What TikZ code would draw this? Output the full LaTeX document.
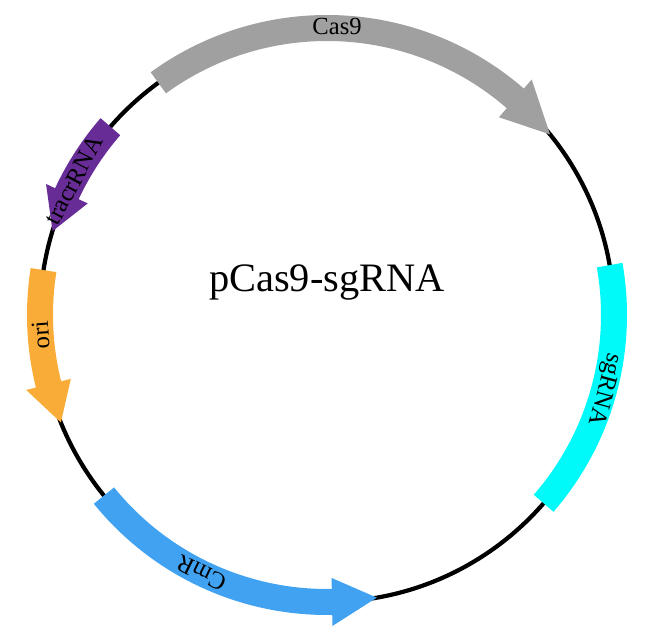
\documentclass[tikz,border=0pt]{standalone}
\usepackage{fontspec}
\setmainfont{Liberation Serif}
\definecolor{casgray}{RGB}{160,160,160}
\definecolor{tracrpurple}{RGB}{104,44,150}
\definecolor{oriorange}{RGB}{250,172,56}
\definecolor{cmrblue}{RGB}{64,162,240}
\definecolor{sgcyan}{RGB}{0,250,250}
\tikzset{
  backbone/.style={line width=2.4pt, black},
  genelabel/.style={font=\fontsize{14}{14}\selectfont, inner sep=0pt},
}
% #1 start angle, #2 end angle, #3 head length (deg), #4 head half width, #5 colour
\newcommand{\genearrow}[5]{%
  \pgfmathsetmacro{\headbase}{#2-#3*sign(#2-#1)}
  \fill[#5] (#1:300) arc[start angle=#1, end angle=\headbase, radius=300]
    -- (\headbase:287+#4) -- (#2:287) -- (\headbase:287-#4)
    -- (\headbase:274) arc[start angle=\headbase, end angle=#1, radius=274] -- cycle;
}

\begin{document}
\begin{tikzpicture}[x=0.02cm, y=0.02cm]
  \useasboundingbox (0,0) rectangle (650,639);
  \begin{scope}[shift={(327,324)}]
    \draw[backbone] (0,0) circle (287);

    \genearrow{126}{39}{10}{25}{casgray}
    \genearrow{139}{163}{8}{23}{tracrpurple}
    \genearrow{171}{202}{8}{23}{oriorange}
    \genearrow{219}{280}{9}{24}{cmrblue}
    \genearrow{10}{-41}{0}{13}{sgcyan}

    \node[genelabel, rotate=0] (cas9) at (88:289) {Cas9};
    \node[genelabel, rotate=62] (tracr) at (152:287) {tracrRNA};
    \node[genelabel, rotate=94] (ori) at (184:287) {ori};
    \node[genelabel, rotate=-105] (sgrna) at (-15:287) {sgRNA};
    \node[genelabel, rotate=154] (cmr) at (244:287) {CmR};

    \node[font=\fontsize{23}{23}\selectfont] (title) at (0,33) {pCas9-sgRNA};
  \end{scope}
\end{tikzpicture}
\end{document}
